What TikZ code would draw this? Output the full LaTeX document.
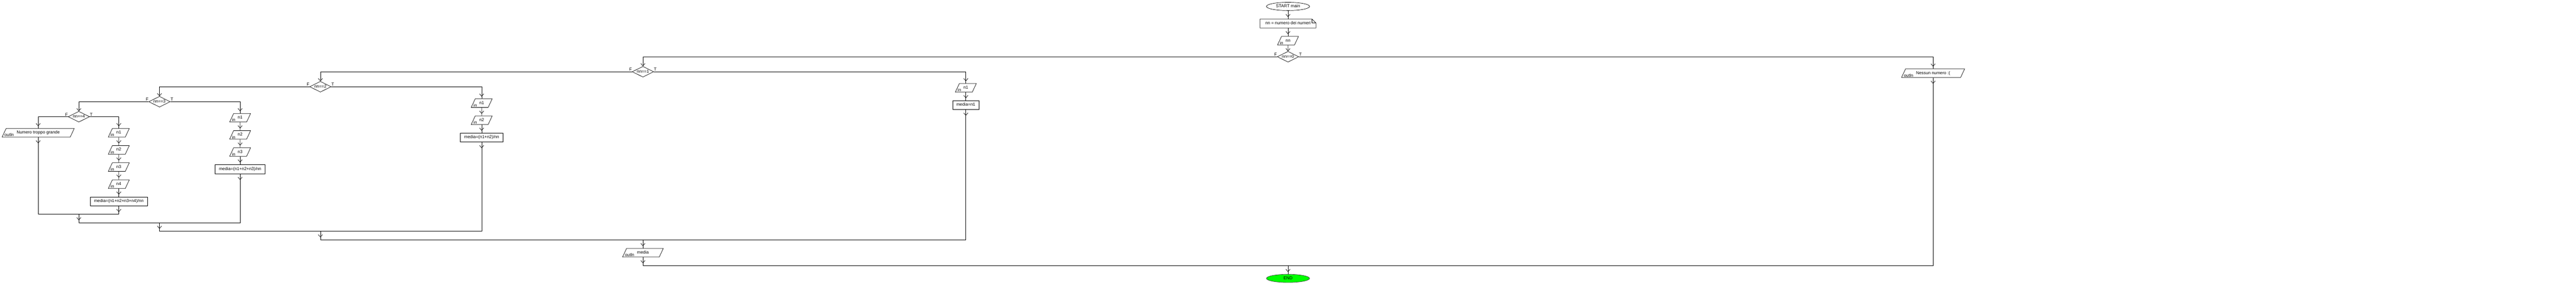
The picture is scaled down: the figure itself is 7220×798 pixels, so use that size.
\documentclass[tikz,border=0pt]{standalone}
\usepackage{fontspec}
\setmainfont{Liberation Sans}
\usetikzlibrary{shapes.geometric,arrows.meta,decorations.markings}

\definecolor{endfill}{RGB}{0,255,0}
\definecolor{endline}{RGB}{64,64,64}

\tikzset{
  txt/.style={text height=8.6pt, text depth=2.6pt},
  term/.style={txt, ellipse, draw, minimum width=121pt, minimum height=23pt, inner sep=0pt},
  note/.style={txt, rectangle, minimum width=156pt, minimum height=24pt, inner xsep=12pt, inner ysep=0pt},
  proc/.style={txt, rectangle, draw, minimum height=25pt, inner xsep=10.5pt, inner ysep=0pt},
  dec/.style={txt, diamond, aspect=2, draw, minimum width=60pt, minimum height=30pt, inner sep=0pt,
     label={[lbl, anchor=base east]left:F}, label={[lbl, anchor=base west]right:T}},
  lbl/.style={inner sep=0pt, yshift=2pt},
  io/.style={txt, trapezium, trapezium left angle=65, trapezium right angle=115, draw, inner ysep=6.4pt},
  tag/.style={anchor=base west, inner sep=0pt, xshift=7pt, yshift=2pt},
  inp/.style={io, inner xsep=11.5pt, append after command={(\tikzlastnode.bottom left corner) node[tag] {in}}},
  outp/.style={io, inner xsep=29.5pt, append after command={(\tikzlastnode.bottom left corner) node[tag] {outln}}},
  % arrow a little before the next box / shortly after leaving a branch
  flow/.style={postaction={decorate}, decoration={markings, mark=at position -6pt with {\arrow{>}}}},
  exit/.style={postaction={decorate}, decoration={markings, mark=at position 17pt with {\arrow{>}}}}
}

\begin{document}
\begin{tikzpicture}[x=1pt, y=-1pt, node distance=48pt, line width=1pt,
   font=\fontsize{12pt}{14pt}\selectfont, >={Straight Barb[length=7pt, width=12pt]}]
   \useasboundingbox (0,0) rectangle (7220,798);

   \node[term] (Start) at (3610,18) {START main};
   \node[note] (Note) [below of=Start] {nn = numero dei numeri};
   \node[inp] (Inn) [below of=Note] {nn};
   \node[dec] (D0) at (3610,159) {nn==0};
   \node[outp] (Out0) at (5418,205) {Nessun numero :(};

   \node[dec] (D1) at (1802,201) {nn==1};
   \node[inp] (N11) at (2707,246) {n1};
   \node[proc] (M1) [below of=N11] {media=n1};

   \node[dec] (D2) at (898,243) {nn==2};
   \node[inp] (N21) at (1350,289) {n1};
   \node[inp] (N22) [below of=N21] {n2};
   \node[proc] (M2) [below of=N22] {media=(n1+n2)/nn};

   \node[dec] (D3) at (447,285) {nn==3};
   \node[inp] (N31) at (673,330) {n1};
   \node[inp] (N32) [below of=N31] {n2};
   \node[inp] (N33) [below of=N32] {n3};
   \node[proc] (M3) [below of=N33] {media=(n1+n2+n3)/nn};

   \node[dec] (D4) at (221,327) {nn==4};
   \node[outp] (Out4) at (107,372) {Numero troppo grande};
   \node[inp] (N41) at (333,372) {n1};
   \node[inp] (N42) [below of=N41] {n2};
   \node[inp] (N43) [below of=N42] {n3};
   \node[inp] (N44) [below of=N43] {n4};
   \node[proc] (M4) [below of=N44] {media=(n1+n2+n3+n4)/nn};

   \node[outp] (Outm) at (1802,708) {media};
   \node[term, fill=endfill, draw=endline] (End) at (3610,780) {END};

   % folded corner of the comment
   \draw (Note.south west) -- (Note.north west) -- ([xshift=-11pt]Note.north east)
      -- ([yshift=-11pt]Note.north east) -- (Note.south east) -- cycle;
   \draw ([xshift=-11pt]Note.north east) |- ([yshift=-11pt]Note.north east);

   \coordinate (J4) at (D4 |- 0,600);
   \coordinate (J3) at (D3 |- 0,624);
   \coordinate (J2) at (D2 |- 0,648);
   \coordinate (J1) at (D1 |- 0,672);
   \coordinate (J0) at (D0 |- 0,744);

   \draw[flow] (Start) -- (Note);
   \draw[flow] (Note) -- (Inn);
   \draw[->] (Inn) -- (D0);
   \draw[->] (D0.west) -| (D1.north);
   \draw[flow] (D0.east) -| (Out0.north);
   \draw[->] (D1.west) -| (D2.north);
   \draw[flow] (D1.east) -| (N11.north);
   \draw[flow] (N11) -- (M1);
   \draw[->] (D2.west) -| (D3.north);
   \draw[flow] (D2.east) -| (N21.north);
   \draw[flow] (N21) -- (N22);
   \draw[flow] (N22) -- (M2);
   \draw[->] (D3.west) -| (D4.north);
   \draw[flow] (D3.east) -| (N31.north);
   \draw[flow] (N31) -- (N32);
   \draw[flow] (N32) -- (N33);
   \draw[flow] (N33) -- (M3);
   \draw[flow] (D4.west) -| (Out4.north);
   \draw[flow] (D4.east) -| (N41.north);
   \draw[flow] (N41) -- (N42);
   \draw[flow] (N42) -- (N43);
   \draw[flow] (N43) -- (N44);
   \draw[flow] (N44) -- (M4);

   \draw[exit] (Out4.south) |- (J4);
   \draw[exit] (M4.south) |- (J4);
   \draw[exit] (J4) |- (J3);
   \draw[exit] (M3.south) |- (J3);
   \draw[exit] (J3) |- (J2);
   \draw[exit] (M2.south) |- (J2);
   \draw[exit] (J2) |- (J1);
   \draw[exit] (M1.south) |- (J1);
   \draw[flow] (J1) -- (Outm);
   \draw[exit] (Outm.south) |- (J0);
   \draw[exit] (Out0.south) |- (J0);
   \draw[flow] (J0) -- (End);
\end{tikzpicture}
\end{document}
